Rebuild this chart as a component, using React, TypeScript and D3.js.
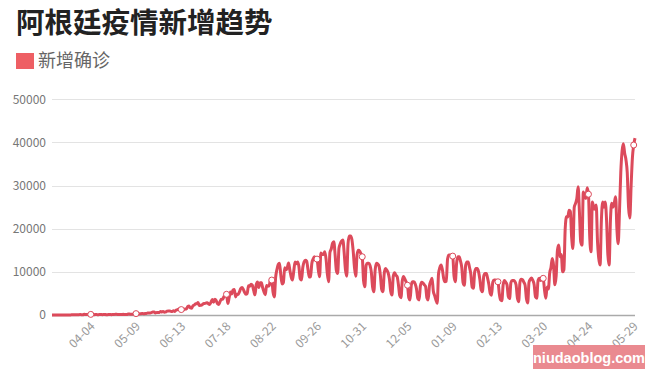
import React, { useEffect, useRef } from "react";
import * as d3 from "d3";

const title = "阿根廷疫情新增趋势";
const seriesName = "新增确诊";
const startDate = "2020-03-05";

// daily new cases, one row per week (Thu..Wed)
const newCases = [
  1, 0, 1, 1, 4, 5, 4,
  12, 3, 11, 11, 11, 9, 17,
  18, 30, 30, 67, 41, 36, 86,
  87, 101, 55, 75, 146, 88, 132,
  89, 98, 143, 88, 112, 87, 99,
  84, 80, 121, 120, 74, 103, 144,
  85, 84, 128, 107, 82, 130, 133,
  163, 167, 102, 111, 99, 98, 158,
  103, 122, 138, 211, 218, 155, 182,
  253, 208, 319, 194, 240, 308, 316,
  345, 264, 364, 324, 448, 470, 474,
  563, 700, 718, 475, 584, 576, 600,
  795, 723, 816, 639, 705, 904, 949,
  929, 840, 795, 983, 826, 1141, 1226,
  1386, 1531, 1257, 1282, 1208, 1374, 1393,
  1958, 2060, 1634, 1581, 2146, 2285, 2635,
  2606, 2886, 2189, 2262, 2335, 2632, 2667,
  2744, 2845, 2590, 2439, 2979, 3604, 2973,
  3663, 3367, 2657, 2456, 3099, 3645, 3638,
  4250, 4518, 4800, 2657, 3937, 5344, 4890,
  5782, 5929, 4196, 4814, 4767, 5355, 6134,
  6377, 5929, 5241, 4824, 4987, 6792, 6693,
  7147, 6875, 5704, 4688, 7043, 7663, 6365,
  7498, 7482, 6270, 5352, 4706, 6840, 6693,
  6759, 8159, 8100, 5243, 4200, 8713, 10550,
  11717, 12000, 9230, 7187, 7498, 10933, 10504,
  10933, 12026, 10400, 8841, 8100, 10104, 12259,
  11905, 12300, 11243, 8431, 8100, 11000, 12259,
  12700, 12500, 10624, 8782, 8870, 11945, 12969,
  13477, 13000, 12960, 10504, 8870, 14392, 14001,
  14001, 14650, 13000, 9500, 7700, 14500, 15300,
  16600, 17000, 14000, 10300, 9640, 15500, 16500,
  17100, 17360, 14500, 10500, 9000, 16500, 18300,
  18300, 17500, 14800, 11000, 9000, 14000, 15000,
  14800, 14200, 13500, 8000, 6550, 11500, 12000,
  12000, 11500, 10000, 6500, 5400, 10500, 12000,
  11800, 11300, 9300, 6000, 5400, 9600, 10800,
  10400, 9800, 8400, 5500, 4630, 9000, 9800,
  9250, 8900, 7000, 4500, 4000, 8000, 8900,
  8300, 7600, 6900, 4000, 3500, 7000, 7700,
  7700, 7200, 6000, 3800, 3500, 6800, 7600,
  7400, 7000, 6600, 4000, 3500, 6800, 7800,
  8500, 5500, 4500, 3500, 2700, 9500, 11000,
  11600, 10500, 8500, 7700, 7800, 13000, 13900,
  13900, 13800, 13650, 9000, 7700, 12000, 13500,
  13500, 12500, 11000, 7500, 6900, 11500, 12300,
  12300, 11000, 9500, 6500, 6200, 10000, 10800,
  10800, 10000, 8200, 5800, 5400, 9000, 9600,
  9600, 8500, 7000, 5000, 4600, 7600, 8100,
  8100, 8000, 7700, 5000, 3500, 3300, 7000,
  8000, 7600, 7000, 4300, 3800, 7500, 8000,
  8000, 7800, 7000, 4000, 3100, 7600, 8300,
  8200, 7600, 6900, 3800, 2800, 7600, 8300,
  8600, 8000, 7000, 4200, 3900, 8000, 8500,
  8000, 8500, 8500, 5800, 3900, 6500, 6000,
  9700, 11000, 13100, 11500, 7000, 9000, 15000,
  16200, 13500, 14000, 10000, 10500, 20000, 22750,
  22700, 24300, 24000, 18000, 15400, 25000, 25860,
  27000, 29700, 24000, 17000, 16200, 28500, 27500,
  27000, 29500, 28000, 18000, 14650, 26200, 25000,
  24500, 25500, 17000, 13000, 11570, 22000, 26200,
  25000, 26200, 22000, 14000, 11570, 22000, 25900,
  25000, 26000, 27400, 20000, 16500, 24000, 33000,
  38000, 39700, 37500, 36000, 33000, 25000, 22500,
  30000, 36500, 39400, 41000,
];

const yTicks = [0, 10000, 20000, 30000, 40000, 50000];
const xTickLabels = [
  "04-04", "05-09", "06-13", "07-18", "08-22", "09-26", "10-31",
  "12-05", "01-09", "02-13", "03-20", "04-24", "05-29",
];
const watermark = "niudaoblog.com";

const lineColor = "#dc4a5b";
const font = "'Noto Sans CJK SC', 'Noto Sans', sans-serif";

export default function App() {
  const ref = useRef<SVGSVGElement>(null);

  useEffect(() => {
    const svg = d3.select(ref.current);
    svg.selectAll("*").remove();

    const start = d3.utcParse("%Y-%m-%d")(startDate) as Date;
    const data = newCases.map((v, i) => ({ date: d3.utcDay.offset(start, i), value: v }));
    const fmt = d3.utcFormat("%m-%d");

    const x = d3
      .scaleUtc()
      .domain([data[0].date, data[data.length - 1].date])
      .range([52, 635]);
    const y = d3.scaleLinear().domain([0, 50000]).range([315, 99.3]);

    svg.append("rect").attr("width", 650).attr("height", 375).attr("fill", "#fff");

    // title + legend
    svg
      .append("text")
      .attr("x", 16)
      .attr("y", 33)
      .attr("font-family", font)
      .attr("font-size", 28.5)
      .attr("font-weight", "bold")
      .attr("fill", "#222")
      .text(title);
    svg
      .append("rect")
      .attr("x", 16)
      .attr("y", 53)
      .attr("width", 18)
      .attr("height", 16)
      .attr("fill", "#ee5f64");
    svg
      .append("text")
      .attr("x", 38)
      .attr("y", 67)
      .attr("font-family", font)
      .attr("font-size", 18)
      .attr("fill", "#666")
      .text(seriesName);

    // grid + y labels
    const grid = svg.append("g");
    grid
      .selectAll("line")
      .data(yTicks.filter((t) => t > 0))
      .enter()
      .append("line")
      .attr("x1", 52)
      .attr("x2", 635)
      .attr("y1", (d) => Math.round(y(d)) + 0.5)
      .attr("y2", (d) => Math.round(y(d)) + 0.5)
      .attr("stroke", "#e3e3e3");
    grid
      .selectAll("text")
      .data(yTicks)
      .enter()
      .append("text")
      .attr("x", 46)
      .attr("y", (d) => y(d))
      .attr("dy", "0.35em")
      .attr("text-anchor", "end")
      .attr("font-family", font)
      .attr("font-size", 12)
      .attr("fill", "#777")
      .text((d) => d);

    // x axis
    svg
      .append("line")
      .attr("x1", 52)
      .attr("x2", 635)
      .attr("y1", 315.5)
      .attr("y2", 315.5)
      .attr("stroke", "#aaa")
      .attr("stroke-width", 1.5);

    const tickPts: { date: Date; value: number; label: string }[] = [];
    let from = 0;
    xTickLabels.forEach((lab) => {
      for (let i = from; i < data.length; i++) {
        if (fmt(data[i].date) === lab) {
          tickPts.push({ ...data[i], label: lab });
          from = i + 1;
          break;
        }
      }
    });

    svg
      .append("g")
      .selectAll("text")
      .data(tickPts)
      .enter()
      .append("text")
      .attr("transform", (d) => `translate(${x(d.date) + 2},${324}) rotate(-45)`)
      .attr("text-anchor", "end")
      .attr("dy", "0.35em")
      .attr("font-family", font)
      .attr("font-size", 12)
      .attr("fill", "#999")
      .text((d) => d.label);

    // line
    const line = d3
      .line<{ date: Date; value: number }>()
      .x((d) => x(d.date))
      .y((d) => y(d.value))
      .curve(d3.curveMonotoneX);
    svg
      .append("path")
      .datum(data)
      .attr("d", line)
      .attr("fill", "none")
      .attr("stroke", lineColor)
      .attr("stroke-width", 3)
      .attr("stroke-linejoin", "round");

    svg
      .append("g")
      .selectAll("circle")
      .data(tickPts)
      .enter()
      .append("circle")
      .attr("cx", (d) => x(d.date))
      .attr("cy", (d) => y(d.value))
      .attr("r", 3)
      .attr("fill", "#fff")
      .attr("stroke", lineColor)
      .attr("stroke-width", 1);

    // watermark
    svg
      .append("rect")
      .attr("x", 533)
      .attr("y", 345)
      .attr("width", 112)
      .attr("height", 24)
      .attr("fill", "#e9848a")
      .attr("opacity", 0.95);
    svg
      .append("text")
      .attr("x", 589)
      .attr("y", 362.5)
      .attr("text-anchor", "middle")
      .attr("font-family", "'Liberation Sans', Arial, sans-serif")
      .attr("font-weight", "bold")
      .attr("font-size", 14.5)
      .attr("fill", "#fff")
      .text(watermark);
  }, []);

  return (
    <svg
      ref={ref}
      width={650}
      height={375}
      style={{ position: "absolute", left: 0, top: 0 }}
    />
  );
}
